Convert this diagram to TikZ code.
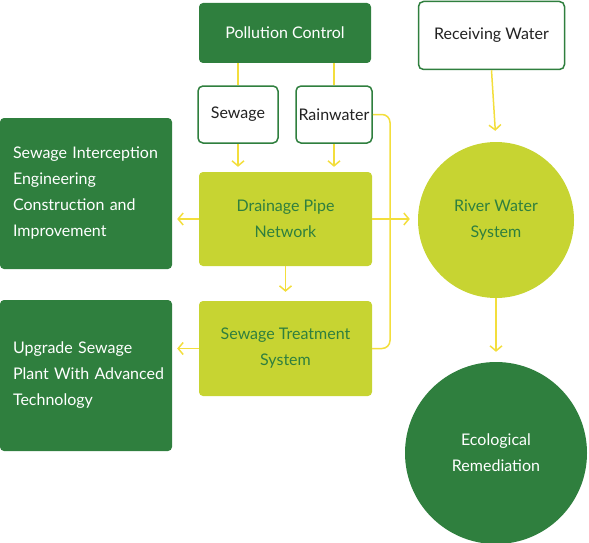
\documentclass[tikz,border=0pt]{standalone}
\usepackage{fontspec}
\setmainfont{Lato}
\usetikzlibrary{arrows.meta}
\definecolor{darkgreen}{HTML}{2F7F3E}
\definecolor{limegreen}{HTML}{C7D432}
\definecolor{pipeyellow}{HTML}{F3DE3C}
\definecolor{inkgray}{HTML}{222222}
\hyphenpenalty=10000
\hbadness=10000
\hfuzz=20pt
\tikzset{
	darkbox/.style={fill=darkgreen,text=white,rounded corners=4pt,inner sep=0pt},
	whitebox/.style={draw=darkgreen,line width=1.5pt,fill=white,text=inkgray,rounded corners=5pt,inner sep=0pt},
	limebox/.style={fill=limegreen,text=darkgreen,rounded corners=4pt,inner sep=0pt,align=center},
	listbox/.style={darkbox,minimum width=172pt,minimum height=151pt,text width=146pt,inner xsep=13pt,align=left},
	link/.style={draw=pipeyellow,line width=1.5pt},
	arr/.style={link,-{Straight Barb[length=5pt,width=12pt,line width=1.5pt]}}
}

\begin{document}
\begin{tikzpicture}[x=1pt,y=-1pt,font=\fontsize{16}{26}\selectfont]
\useasboundingbox (0,0) rectangle (589,543);
% top row
\node[darkbox,minimum width=172pt,minimum height=60pt] (pc) at (285,33) {Pollution Control};
\node[whitebox,minimum width=80pt,minimum height=57pt] (sew) at (238,114.5) {Sewage};
\node[whitebox,minimum width=76pt,minimum height=57pt] (rain) at (334,114.5) {Rainwater};
\node[whitebox,minimum width=146pt,minimum height=68pt] (rcv) at (491.5,35.5) {Receiving Water};
% middle
\node[limebox,minimum width=173pt,minimum height=94pt] (dpn) at (285.5,219) {Drainage Pipe\\Network};
\node[limebox,minimum width=173pt,minimum height=95pt] (stp) at (285.5,348.5) {Sewage Treatment\\System};
\node[listbox] (sie) at (86,193.5)
	{Sewage~Interception\\Engineering\\Construction~and\\Improvement};
\node[listbox] (usp) at (86,375.5)
	{Upgrade~Sewage\\Plant~With~Advanced\\Technology};
% circles
\node[circle,fill=limegreen,text=darkgreen,minimum size=156pt,align=center] (rws) at (496,220) {River Water\\System};
\node[circle,fill=darkgreen,text=white,minimum size=182pt,align=center] (eco) at (496,453) {Ecological\\Remediation};
\coordinate (bus) at (390,0);

% connectors
\draw[link] (sew.north |- pc.south) -- (sew.north);
\draw[link] (rain.north |- pc.south) -- (rain.north);
\draw[arr,shorten >=5pt] (sew.south) -- (sew.south |- dpn.north);
\draw[arr,shorten >=5pt] (rain.south) -- (rain.south |- dpn.north);
\draw[link,rounded corners=8pt] (rain.east) -- (rain.east -| bus) -- (stp.east -| bus) -- (stp.east);
\draw[arr,shorten >=8pt] (dpn.east) -- (dpn.east -| rws.west);
\draw[arr,shorten >=5pt] (dpn.west) -- (dpn.west -| sie.east);
\draw[arr,shorten >=9pt] (dpn.south) -- (stp.north);
\draw[arr,shorten >=5pt] (stp.west) -- (stp.west -| usp.east);
\draw[arr,shorten >=11pt] (rcv.south) -- (rws.north);
\draw[arr,shorten >=10pt] (rws.south) -- (eco.north);
\end{tikzpicture}
\end{document}
